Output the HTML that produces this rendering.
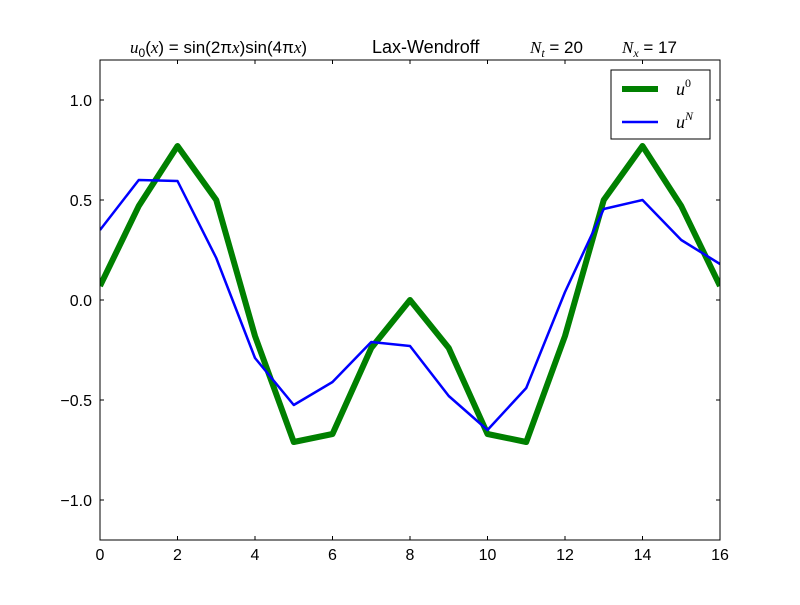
<!DOCTYPE html>
<html><head><meta charset="utf-8"><style>
body{margin:0;background:#fff;}
svg text{font-family:"Liberation Sans",sans-serif;}
.m{font-family:"Liberation Serif",serif;font-style:italic;}
</style></head><body>
<svg id="c" width="800" height="600" xmlns="http://www.w3.org/2000/svg">
<rect width="800" height="600" fill="#fff"/>
<g id="plot"></g>
<g id="axes"></g>
<text x="130" y="53" font-size="17"><tspan class="m">u</tspan><tspan font-size="12" dy="4">0</tspan><tspan dy="-4">(</tspan><tspan class="m">x</tspan>) = sin(2π<tspan class="m">x</tspan>)sin(4π<tspan class="m">x</tspan>)</text>
<text x="372" y="53" font-size="18">Lax-Wendroff</text>
<text x="530" y="53" font-size="17"><tspan class="m">N</tspan><tspan font-size="12" dy="4" class="m">t</tspan><tspan dy="-4"> = 20</tspan></text>
<text x="622" y="53" font-size="17"><tspan class="m">N</tspan><tspan font-size="12" dy="4" class="m">x</tspan><tspan dy="-4"> = 17</tspan></text>
<g>
<rect x="611" y="70" width="99" height="69" fill="#fff" stroke="#000" stroke-width="1"/>
<line x1="622" y1="89" x2="658" y2="89" stroke="#008000" stroke-width="6"/>
<text x="676" y="95" font-size="18" class="m">u<tspan font-size="12" dy="-8" font-style="normal">0</tspan></text>
<line x1="622" y1="122" x2="658" y2="122" stroke="#0000ff" stroke-width="2.5"/>
<text x="676" y="128" font-size="18" class="m">u<tspan font-size="12" dy="-8">N</tspan></text>
</g>
</svg>
<script>
const xs=[0,1,2,3,4,5,6,7,8,9,10,11,12,13,14,15,16];
const u0=[0.07,0.47,0.77,0.50,-0.18,-0.71,-0.67,-0.24,0.0,-0.24,-0.67,-0.71,-0.18,0.50,0.77,0.47,0.07];
const uN=[0.35,0.60,0.595,0.21,-0.29,-0.525,-0.41,-0.21,-0.23,-0.48,-0.65,-0.44,0.04,0.455,0.50,0.30,0.18];
const xTicks=[0,2,4,6,8,10,12,14,16];
const yTicks=[-1.0,-0.5,0.0,0.5,1.0];
const yLabels=["\u22121.0","\u22120.5","0.0","0.5","1.0"];
const L=100,R=720,T=60,B=540,xmin=0,xmax=16,ymin=-1.2,ymax=1.2;
const X=v=>L+(v-xmin)/(xmax-xmin)*(R-L);
const Y=v=>B-(v-ymin)/(ymax-ymin)*(B-T);
const NS="http://www.w3.org/2000/svg";
const plot=document.getElementById('plot'),axes=document.getElementById('axes');
function mk(t,a,p){const e=document.createElementNS(NS,t);for(const k in a)e.setAttribute(k,a[k]);p.appendChild(e);return e;}
const cp=mk('clipPath',{id:'cl'},plot);mk('rect',{x:L,y:T,width:R-L,height:B-T},cp);
const g1=mk('polyline',{points:xs.map((x,i)=>X(x)+','+Y(u0[i])).join(' '),fill:'none',stroke:'#008000','stroke-width':6,'stroke-linejoin':'round','clip-path':'url(#cl)'},plot);


const g2=mk('polyline',{points:xs.map((x,i)=>X(x)+','+Y(uN[i])).join(' '),fill:'none',stroke:'#0000ff','stroke-width':2.5,'stroke-linejoin':'round','clip-path':'url(#cl)'},plot);


const fr=mk('rect',{x:L,y:T,width:R-L,height:B-T,fill:'none',stroke:'#000','stroke-width':1},axes);


xTicks.forEach(v=>{const x=X(v);
mk('line',{x1:x,y1:B,x2:x,y2:B-4,stroke:'#000'},axes);mk('line',{x1:x,y1:T,x2:x,y2:T+4,stroke:'#000'},axes);
const t=mk('text',{x:x,y:B+20,'font-size':16,'text-anchor':'middle'},axes);t.textContent=v;

});
yTicks.forEach((v,i)=>{const y=Y(v);
mk('line',{x1:L,y1:y,x2:L+4,y2:y,stroke:'#000'},axes);mk('line',{x1:R,y1:y,x2:R-4,y2:y,stroke:'#000'},axes);
const t=mk('text',{x:L-8,y:y+6,'font-size':16,'text-anchor':'end'},axes);t.textContent=yLabels[i];

});
</script>
</body></html>
